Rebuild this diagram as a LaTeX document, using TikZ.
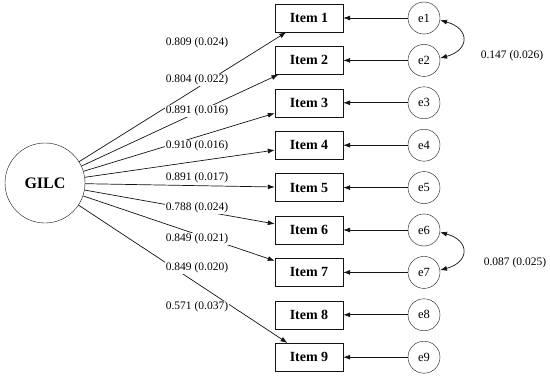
\documentclass[tikz,border=0pt]{standalone}
\usepackage{fontspec}
\setmainfont{Liberation Serif}
\usepackage{tikz}
\usetikzlibrary{arrows.meta}
\definecolor{pathblack}{RGB}{20, 20, 20}

\begin{document}
\begin{tikzpicture}[x=1pt, y=1pt, >={Latex[length=7pt, width=5pt]},
    latent/.style={draw=pathblack, circle, minimum size=80pt, inner sep=0pt,
      font=\fontsize{16}{18}\selectfont\bfseries},
    itembox/.style={draw=pathblack, rectangle, minimum width=68pt, minimum height=28pt,
      inner sep=0pt, font=\fontsize{14}{16}\selectfont\bfseries},
    errcirc/.style={draw=pathblack, circle, minimum size=32pt, inner sep=0pt,
      font=\fontsize{12.5}{14}\selectfont},
    loadlabel/.style={fill=white, inner sep=1pt, font=\fontsize{11.5}{13}\selectfont},
    covlabel/.style={inner sep=1pt, font=\fontsize{11.5}{13}\selectfont}]

  \useasboundingbox (0, 0) rectangle (550, 376);

  % --- Latent factor ---
  \node[latent] (gilc) at (45, 193) {GILC};

  % --- Items and error terms ---
  \foreach \i in {1,...,9} {
    \node[itembox] (item\i) at (309, {358-42.4*(\i-1)}) {Item \i};
    \node[errcirc] (e\i) at (424, {358-42.4*(\i-1)}) {e\i};
    \draw[->, pathblack, line width=0.7pt] (e\i) -- (item\i);
  }

  % Factor loadings (no path to Item 8)
  \foreach \i in {1,...,7,9} {
    \draw[->, pathblack, line width=0.7pt] (gilc) -- (item\i);
  }

  % Loading labels
  \node[loadlabel] (l1) at (197, 333) {0.809 (0.024)};
  \node[loadlabel] (l2) at (197, 296) {0.804 (0.022)};
  \node[loadlabel] (l3) at (197, 265) {0.891 (0.016)};
  \node[loadlabel] (l4) at (197, 230) {0.910 (0.016)};
  \node[loadlabel] (l5) at (197, 198) {0.891 (0.017)};
  \node[loadlabel] (l6) at (197, 168) {0.788 (0.024)};
  \node[loadlabel] (l7) at (197, 137) {0.849 (0.021)};
  \node[loadlabel] (l8) at (197, 108) {0.849 (0.020)};
  \node[loadlabel] (l9) at (197, 69) {0.571 (0.037)};

  % --- Error covariances ---
  \draw[<->, pathblack, line width=0.7pt] (e1.-8) to[out=-15, in=15, looseness=2.1] (e2.8);
  \node[covlabel] (c12) at (512, 320) {0.147 (0.026)};

  \draw[<->, pathblack, line width=0.7pt] (e6.-8) to[out=-15, in=15, looseness=2.1] (e7.8);
  \node[covlabel] (c67) at (515, 113) {0.087 (0.025)};

\end{tikzpicture}
\end{document}
